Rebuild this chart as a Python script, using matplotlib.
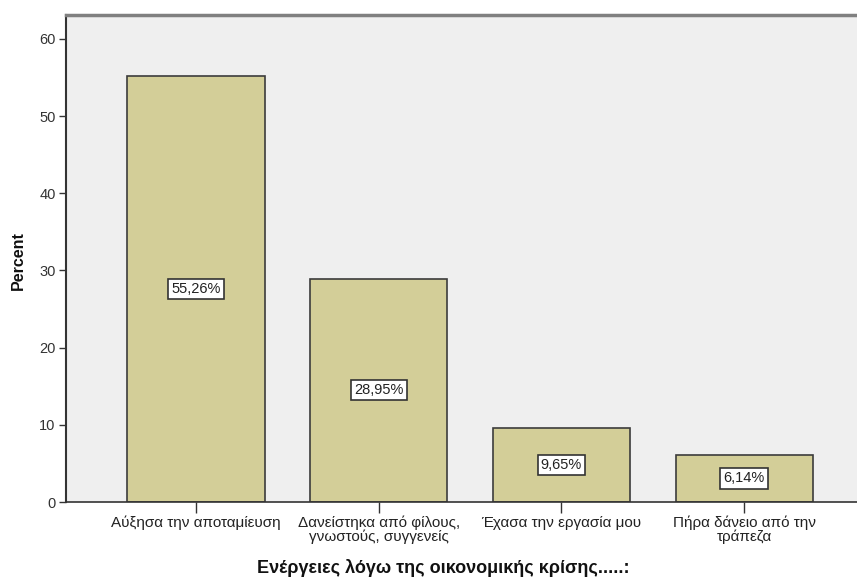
import matplotlib
matplotlib.use("Agg")
import matplotlib.pyplot as plt

# Survey responses: actions taken because of the economic crisis
categories = [
    "Αύξησα την αποταμίευση",
    "Δανείστηκα από φίλους,\nγνωστούς, συγγενείς",
    "Έχασα την εργασία μου",
    "Πήρα δάνειο από την\nτράπεζα",
]
percent = [55.26, 28.95, 9.65, 6.14]
y_ticks = [0, 10, 20, 30, 40, 50, 60]

plt.rcParams["font.family"] = ["Liberation Sans", "DejaVu Sans"]

fig = plt.figure(figsize=(8.57, 5.83), dpi=100)
ax = fig.add_axes([66 / 857, 81 / 583, 1 - 66 / 857, 487 / 583])
ax.set_facecolor("#efefef")

x = list(range(len(categories)))
ax.bar(x, percent, width=0.75, color="#d3ce98", edgecolor="#3c3c3c", linewidth=1.2, zorder=2)

for xi, v in zip(x, percent):
    ax.text(
        xi, v / 2, f"{v:.2f}%".replace(".", ","),
        ha="center", va="center", fontsize=10.5, color="#222222", zorder=3,
        bbox=dict(boxstyle="square,pad=0.22", facecolor="white", edgecolor="#333333", linewidth=1.2),
    )

ax.set_xlim(-0.7115, 3.618)
ax.set_ylim(0, 63.1)
ax.set_yticks(y_ticks)
ax.set_yticklabels([str(t) for t in y_ticks], fontsize=10.5, color="#333333")
ax.set_xticks(x)
ax.set_xticklabels(categories, fontsize=11, color="#222222", linespacing=0.9)

ax.tick_params(axis="y", direction="out", length=5, width=1, color="#333333", pad=2.5)
ax.tick_params(axis="x", direction="out", length=8, width=1, color="#333333", pad=2)

ax.spines["right"].set_visible(False)
ax.spines["top"].set_color("#808080")
ax.spines["top"].set_linewidth(2.5)
ax.spines["left"].set_color("#333333")
ax.spines["left"].set_linewidth(1.5)
ax.spines["bottom"].set_color("#333333")
ax.spines["bottom"].set_linewidth(1.2)

fig.text(18 / 857, 1 - 261 / 583, "Percent", rotation=90, ha="center", va="center",
         fontsize=11.5, fontweight="bold", color="#111111")
fig.text(443 / 857, 1 - 568 / 583, "Ενέργειες λόγω της οικονομικής κρίσης.....:",
         ha="center", va="center", fontsize=13, fontweight="bold", color="#111111")

fig.savefig("out.png", dpi=100, facecolor="white")
